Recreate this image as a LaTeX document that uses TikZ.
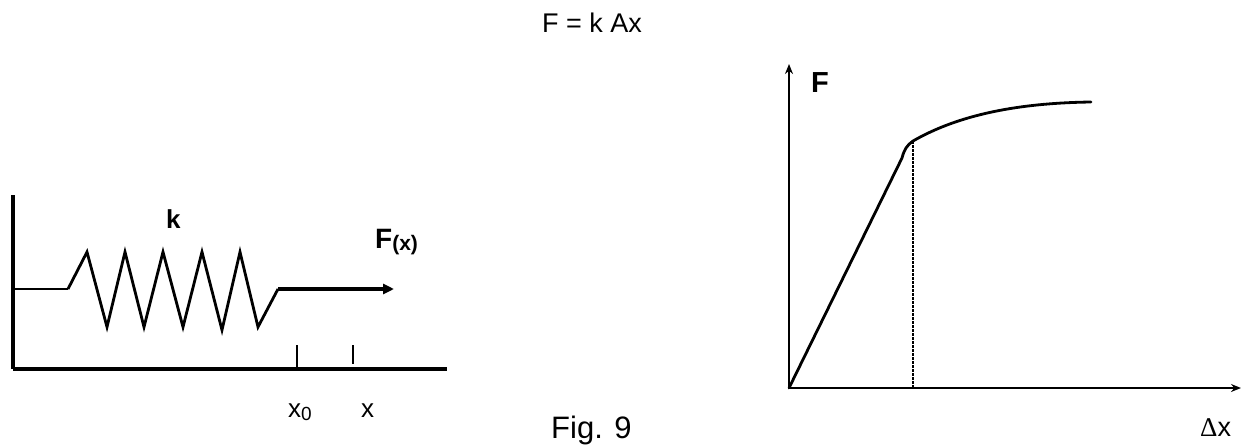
\documentclass[tikz,border=0pt]{standalone}
\usepackage{fontspec}
\setmainfont{Liberation Sans}
\newfontfamily\serifdelta{Liberation Serif}
\usetikzlibrary{arrows.meta}
\tikzset{
  lbl/.style={inner sep=0pt, anchor=center},
  wall/.style={line width=4pt},
  spring/.style={line width=2.8pt, line join=miter},
  lead/.style={line width=1.3pt},
  pull/.style={line width=4.5pt, -{Triangle[length=11pt,width=10pt]}},
  tick/.style={line width=1.4pt},
  axis/.style={line width=2pt, -{Stealth[length=10pt,width=8pt]}},
  curve/.style={line width=2.8pt, line cap=round, line join=round},
  guide/.style={line width=1.2pt, dash pattern=on 2.5pt off 1.5pt}
}
\begin{document}
\begin{tikzpicture}[x=1pt,y=-1pt]
\useasboundingbox (0,0) rectangle (1242,447);
% title
\node[lbl] (title) at (592,23) {\fontsize{27}{27}\selectfont F = k Ax};
% ---- left: spring ----
\coordinate (wt) at (13,195);
\coordinate (wb) at (13,369);
\coordinate (be) at (447,369);
\draw[wall] (wt) -- (wb);
\draw[wall] (wb) -- (be);
\coordinate (s0) at (13,289);
\coordinate (s1) at (68,289);
\draw[lead] (s0) -- (s1);
\coordinate (s2) at (278,289);
\draw[spring] (s1) -- (87,252) -- (107,327) -- (125,252) -- (144,327) -- (163,252)
  -- (183,327) -- (202,252) -- (222,330) -- (240,252) -- (258,327) -- (s2);
\coordinate (ae) at (394,289);
\draw[pull] (s2) -- (ae);
\coordinate (t1a) at (297,345); \coordinate (t1b) at (297,367);
\coordinate (t2a) at (353,345); \coordinate (t2b) at (353,364);
\draw[tick] (t1a) -- (t1b);
\draw[tick] (t2a) -- (t2b);
\node[lbl, anchor=base west] (k) at (166,228) {\fontsize{26}{26}\selectfont\bfseries k};
\node[lbl, anchor=base west] (Fx) at (375,248) {\fontsize{28}{28}\selectfont\bfseries F\raisebox{-2pt}{\fontsize{21}{21}\selectfont (x)}};
\node[lbl, anchor=base west] (x0) at (288,417) {\fontsize{26}{26}\selectfont x\raisebox{-0.25ex}{\fontsize{19}{19}\selectfont 0}};
\node[lbl, anchor=base west] (x1) at (361,417) {\fontsize{26}{26}\selectfont x};
\node[lbl, anchor=base west] (fig) at (551,438) {\fontsize{31}{31}\selectfont Fig. 9};
% ---- right: graph ----
\coordinate (O) at (789,388);
\coordinate (ytop) at (789,64);
\coordinate (xend) at (1241,388);
\draw[axis] (O) -- (ytop);
\draw[axis] (O) -- (xend);
\coordinate (p1) at (902,158);
\coordinate (kn) at (913,141);
\coordinate (ce) at (1091,102);
\draw[curve] (O) -- (p1) .. controls (904,150) and (907,145) .. (kn)
  .. controls (960,114) and (1020,103) .. (ce);
\coordinate (kb) at (913,388);
\draw[guide] (kn) -- (kb);
\node[lbl, anchor=base west] (F) at (811,92) {\fontsize{29}{29}\selectfont\bfseries F};
\node[lbl, anchor=base west] (dx) at (1200,436) {\fontsize{27}{27}\selectfont{\serifdelta Δ}x};
\end{tikzpicture}
\end{document}
